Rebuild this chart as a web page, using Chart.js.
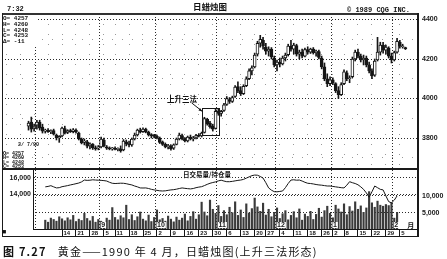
<!DOCTYPE html>
<html>
<head>
<meta charset="utf-8">
<script src="https://cdn.jsdelivr.net/npm/chart.js@4.4.0/dist/chart.umd.min.js"></script>
<style>
  body { margin: 0; width: 447px; height: 259px; background: #fff; position: relative; overflow: hidden; color: #111; }
  .abs { position: absolute; white-space: nowrap; }
  .line { position: absolute; background: #1a1a1a; }
  .mono { font-family: "Liberation Mono", "DejaVu Sans Mono", monospace; font-weight: bold; }
  canvas { position: absolute; }
</style>
</head>
<body>
<canvas id="priceChart" width="445" height="155" style="left:2px;top:14px"></canvas>
<canvas id="volChart" width="445" height="68" style="left:2px;top:169px"></canvas>

<!-- frame -->
<div class="line" style="left:2px;top:13px;width:416px;height:2px;background:#333"></div>
<div class="line" style="left:2px;top:13px;width:1px;height:224px"></div>
<div class="line" style="left:417px;top:13px;width:2px;height:224px"></div>
<div class="line" style="left:2px;top:168px;width:416px;height:2px"></div>
<div class="line" style="left:2px;top:236px;width:416px;height:1px"></div>

<!-- header -->
<div class="abs mono" style="left:7px;top:5px;font-size:7px">7:32</div>
<div class="abs" style="left:193px;top:0px;font:bold 8.5px 'Noto Sans CJK SC'">日蜡烛图</div>
<div class="abs mono" style="left:347px;top:6px;font-size:7px">© 1989 CQG INC.</div>

<!-- quote box, top left -->
<div class="abs mono" style="left:3px;top:16px;width:34px;height:29px;background:#fff;font-size:6px;line-height:5.8px">
O= 4257<br>H= 4260<br>L= 4248<br>C= 4253<br>&Delta;= -11</div>

<!-- bar info, lower left -->
<div class="abs mono" style="left:3px;top:143px;font-size:5px;line-height:4.4px">
&nbsp;&nbsp;&nbsp;&nbsp;&nbsp;2/ 7/90<br><br>O= 4257<br>H= 4260<br>L= 4248<br>C= 4253</div>

<div class="abs" style="left:167px;top:93px;font:bold 7.5px 'Noto Sans CJK SC'">上升三法</div>
<div class="abs" style="left:182px;top:171px;font:bold 6.5px 'Noto Sans CJK SC';line-height:7px;background:#fff;padding:0 1px">日交易量/持仓量</div>
<div class="abs" style="left:2px;top:228px;font-size:7px">■</div>

<div class="abs" style="left:3px;top:243px;font:11px 'Noto Sans CJK SC';letter-spacing:1.2px"><b>图 7.27</b>&nbsp;&nbsp;&nbsp;黄金——1990 年 4 月，日蜡烛图(上升三法形态)</div>

<script>
// trading calendar (COMEX holidays in the window)
const holidays = ['1989-09-04', '1989-11-23', '1989-12-25', '1990-01-01'];
const firstSlotDate = '1989-07-14';
const slotCount = 149;

// daily candles, 1989-07-27 .. 1990-02-07
const candleStart = '1989-07-27';
const opens = [
  3860, 3880, 3850, 3865, 3880, 3855, 3835, 3840, 3832, 3838,
  3815, 3800, 3810, 3848, 3828, 3836, 3832, 3840, 3825, 3795,
  3778, 3780, 3760, 3768, 3750, 3748, 3755, 3790, 3755, 3748,
  3745, 3748, 3742, 3745, 3740, 3780, 3770, 3765, 3795, 3815,
  3838, 3832, 3845, 3830, 3815, 3812, 3808, 3800, 3780, 3768,
  3755, 3760, 3748, 3768, 3795, 3812, 3795, 3785, 3805, 3795,
  3800, 3812, 3810, 3828, 3895, 3875, 3860, 3848, 3935, 3925,
  3940, 3970, 3995, 3985, 4010, 4060, 4040, 4025, 4065, 4100,
  4140, 4160, 4225, 4280, 4295, 4260, 4240, 4250, 4205, 4170,
  4185, 4175, 4205, 4222, 4265, 4250, 4268, 4225, 4235, 4215,
  4248, 4235, 4250, 4232, 4238, 4205, 4160, 4100, 4075, 4095,
  4075, 4040, 4020, 4075, 4130, 4100, 4110, 4200, 4235, 4215,
  4195, 4205, 4170, 4140, 4118, 4195, 4235, 4270, 4245, 4255,
  4215, 4195, 4235, 4285, 4262, 4257
];
const highs = [
  3885, 3906, 3870, 3890, 3890, 3870, 3845, 3848, 3842, 3845,
  3820, 3812, 3855, 3860, 3842, 3845, 3848, 3846, 3830, 3800,
  3795, 3788, 3775, 3772, 3760, 3762, 3805, 3800, 3762, 3755,
  3752, 3755, 3750, 3760, 3792, 3790, 3785, 3800, 3825, 3845,
  3850, 3852, 3850, 3835, 3822, 3818, 3815, 3805, 3785, 3775,
  3768, 3765, 3770, 3800, 3825, 3820, 3802, 3810, 3815, 3808,
  3818, 3822, 3830, 3905, 3900, 3885, 3870, 3945, 3950, 3940,
  3975, 4010, 4005, 4012, 4065, 4085, 4060, 4070, 4110, 4150,
  4165, 4230, 4290, 4320, 4310, 4280, 4262, 4258, 4215, 4195,
  4205, 4215, 4230, 4275, 4295, 4280, 4275, 4245, 4250, 4255,
  4262, 4255, 4258, 4245, 4245, 4215, 4180, 4125, 4110, 4105,
  4080, 4060, 4080, 4145, 4140, 4115, 4210, 4245, 4250, 4225,
  4220, 4215, 4185, 4150, 4200, 4310, 4285, 4285, 4270, 4262,
  4230, 4240, 4305, 4295, 4275, 4260
];
const lows = [
  3840, 3830, 3835, 3845, 3840, 3825, 3825, 3828, 3822, 3815,
  3790, 3778, 3805, 3820, 3822, 3828, 3826, 3825, 3790, 3770,
  3765, 3750, 3745, 3742, 3738, 3740, 3750, 3755, 3742, 3740,
  3738, 3740, 3735, 3728, 3735, 3760, 3755, 3758, 3790, 3810,
  3825, 3828, 3826, 3810, 3800, 3800, 3795, 3772, 3762, 3750,
  3745, 3738, 3742, 3765, 3790, 3790, 3780, 3780, 3790, 3785,
  3795, 3805, 3805, 3825, 3865, 3850, 3835, 3845, 3915, 3910,
  3935, 3965, 3975, 3980, 4005, 4030, 4015, 4020, 4060, 4095,
  4120, 4155, 4215, 4260, 4250, 4225, 4215, 4200, 4160, 4140,
  4160, 4170, 4190, 4215, 4240, 4225, 4215, 4200, 4205, 4210,
  4225, 4228, 4225, 4215, 4200, 4150, 4090, 4060, 4065, 4070,
  4030, 4000, 4015, 4070, 4090, 4080, 4105, 4190, 4205, 4185,
  4170, 4160, 4130, 4100, 4112, 4190, 4220, 4230, 4225, 4205,
  4180, 4190, 4230, 4255, 4255, 4248
];
const closes = [
  3875, 3845, 3860, 3880, 3850, 3835, 3840, 3832, 3838, 3820,
  3800, 3808, 3850, 3825, 3838, 3832, 3842, 3830, 3795, 3775,
  3785, 3758, 3770, 3750, 3745, 3755, 3795, 3760, 3748, 3745,
  3750, 3742, 3746, 3735, 3785, 3770, 3765, 3795, 3815, 3840,
  3830, 3845, 3830, 3815, 3812, 3808, 3800, 3778, 3768, 3755,
  3762, 3745, 3765, 3795, 3815, 3795, 3785, 3805, 3795, 3800,
  3812, 3810, 3825, 3898, 3872, 3858, 3845, 3935, 3925, 3935,
  3968, 4000, 3985, 4005, 4058, 4040, 4025, 4062, 4100, 4140,
  4155, 4220, 4280, 4300, 4265, 4240, 4250, 4210, 4170, 4185,
  4175, 4205, 4220, 4265, 4250, 4270, 4225, 4235, 4215, 4248,
  4235, 4250, 4232, 4240, 4208, 4160, 4100, 4075, 4095, 4080,
  4040, 4020, 4070, 4135, 4100, 4105, 4200, 4235, 4215, 4195,
  4205, 4170, 4140, 4115, 4190, 4235, 4270, 4245, 4260, 4215,
  4195, 4232, 4290, 4265, 4264, 4253
];

// volume / open interest, 1989-08-04 .. 1990-02-02
const volStart = '1989-08-04';
const volume = [
  2800, 2200, 3400, 3000, 2500, 3800, 3200, 2600, 3500, 2900, 4200, 2400, 3100, 2700, 4800, 3300,
  2600, 3900, 2200, 3000, 2500, 2000, 3400, 2800, 6500, 3600, 2900, 4100, 3500, 7200, 3000, 4400, 2700, 3800, 5200, 3100,
  2600, 4300, 2400, 3600, 5800, 2900, 3300, 2500, 4000, 3100, 2300, 3700, 2800, 3400, 4600, 2600, 3900, 5300, 3100, 4400,
  8100, 5200, 4100, 8700, 6000, 4800, 7100, 3900, 5600, 4400, 6600, 5000, 8200, 4200, 5800, 3600, 7600, 4900, 6200, 9300,
  6700, 5400, 7800, 4300, 6000, 3800, 5100, 6400, 3300, 4700, 5600, 2900, 4200, 5300, 3500, 6100, 2800, 4600, 3900, 5400,
  3000, 4500, 6300, 3700, 5600, 6900, 4800, 3500, 7200, 6100, 5200, 7600, 4400, 6800, 5500, 8200, 6000, 7000, 5100, 6400,
  11200, 7900, 6600, 8400, 7200, 6900, 7400, 7100, 8000, 3400, 5100
];
const openInterest = [
  14900, 14950, 15040, 14900, 14770, 14800,
  14920, 14980, 15050, 15130, 15200, 15280, 15360, 15500, 15720, 15680,
  15700, 15750, 15720, 15700, 15680, 15650, 15600, 15450, 15330, 15300,
  15320, 15340, 15330, 15280, 15200, 15130, 15000, 14900, 14770, 14760,
  14770, 14700, 14600, 14530, 14480, 14420, 14400, 14420, 14480, 14530,
  14560, 14620, 14700, 14770, 14720, 14680, 14650, 14700, 14800, 14870,
  14920, 15050, 15200, 15330, 15420, 15500, 15620, 15700, 15600, 15520,
  15520, 15560, 15620, 15680, 15720, 15800, 15950, 16100, 16250, 16320,
  16300, 16150, 15960, 15400, 14770, 14500, 14320, 14300, 14350, 14400,
  14800, 15300, 15720, 15750, 15700, 15720, 15600, 15450, 15330, 15300,
  15250, 15180, 15130, 15100, 15050, 15000, 15000, 14950, 14900, 14850,
  14800, 14770, 15100, 15520, 15400, 15300, 15150, 14900, 14600, 14170,
  13650, 14300, 15000, 14800, 14600, 14530, 13800, 13120, 12970, 13300, 13800
];

// axis ticks
const priceTicks = [3700, 3800, 3900, 4000, 4100, 4200, 4300, 4400];
const oiTicks = [14000, 16000];
const volTicks = [5000, 10000];
const firstDateLabel = '1989-08-14';
const firstMonthLabel = '1989-09-01';
const patternStart = '1989-10-25';   // rising three methods
const patternEnd = '1989-10-31';

function tradingDays(start, count) {
  const out = [];
  const d = new Date(start + 'T00:00:00Z');
  while (out.length < count) {
    const wd = d.getUTCDay();
    const iso = d.toISOString().slice(0, 10);
    if (wd !== 0 && wd !== 6 && !holidays.includes(iso)) out.push(iso);
    d.setUTCDate(d.getUTCDate() + 1);
  }
  return out;
}
const dates = tradingDays(firstSlotDate, slotCount);
const c0 = dates.indexOf(candleStart);
const v0 = dates.indexOf(volStart);
const lastCandle = c0 + closes.length - 1;
const wd = s => new Date(dates[s] + 'T00:00:00Z').getUTCDay();
const mon = s => +dates[s].slice(5, 7);

const weekStarts = [];
const monthStarts = [];
for (let s = 1; s < slotCount; s++) {
  if (wd(s) < wd(s - 1) && s <= lastCandle) weekStarts.push(s);
  if (mon(s) !== mon(s - 1)) monthStarts.push(s);
}
const labelWeeks = weekStarts.filter(s => s >= dates.indexOf(firstDateLabel));
const isMonth = v => v % 1 !== 0;

const wicks = closes.map((c, i) => ({ x: c0 + i, y: [lows[i], highs[i]] }));
const bodies = closes.map((c, i) => ({ x: c0 + i, y: [Math.min(opens[i], c), Math.max(opens[i], c)] }));

const ink = '#161616';

// scales keep their own label padding out of the layout, so the plot fills the canvas
function noPad(s) {
  s.paddingTop = 0; s.paddingBottom = 0; s.paddingLeft = 0; s.paddingRight = 0;
}

// dotted month lines, sparse weekly dots
const priceGridTicks = [...weekStarts, ...monthStarts.map(s => s - 0.5)].sort((a, b) => a - b);

const patternBox = {
  id: 'patternBox',
  afterDatasetsDraw(chart) {
    const { x, y } = chart.scales;
    const g = chart.ctx;
    const a = dates.indexOf(patternStart), b = dates.indexOf(patternEnd);
    const hi = Math.max(...highs.slice(a - c0, b - c0 + 1));
    const lo = Math.min(...lows.slice(a - c0, b - c0 + 1));
    const l = Math.round(x.getPixelForValue(a - 1)) + 0.5;
    const r = Math.round(x.getPixelForValue(b + 1.2)) + 0.5;
    const t = Math.round(y.getPixelForValue(hi + 5)) + 0.5;
    const btm = Math.round(y.getPixelForValue(lo - 8)) + 0.5;
    g.save();
    g.strokeStyle = ink;
    g.lineWidth = 1;
    g.strokeRect(l, t, r - l, btm - t);
    // arrow from the label to the box
    const sx = x.getPixelForValue(a - 4.6), sy = y.getPixelForValue(3978);
    g.beginPath();
    g.moveTo(sx, sy);
    g.lineTo(l, t + 3);
    g.stroke();
    g.beginPath();
    g.moveTo(l, t + 3);
    g.lineTo(l - 4, t + 2);
    g.lineTo(l - 2.5, t - 0.5);
    g.closePath();
    g.fillStyle = ink;
    g.fill();
    g.restore();
  }
};

new Chart(document.getElementById('priceChart'), {
  type: 'bar',
  data: {
    datasets: [
      { data: wicks, backgroundColor: ink, barThickness: 1, grouped: false, order: 2 },
      {
        data: bodies,
        backgroundColor: ctx => closes[ctx.dataIndex] >= opens[ctx.dataIndex] ? '#fff' : ink,
        borderColor: ink, borderWidth: 1, borderSkipped: false,
        barThickness: 3, minBarLength: 1, grouped: false, order: 1
      }
    ]
  },
  options: {
    responsive: false,
    animation: false,
    layout: { padding: 0, autoPadding: false },
    plugins: { legend: { display: false }, tooltip: { enabled: false } },
    scales: {
      x: {
        type: 'linear', min: -0.5, max: slotCount - 0.5, offset: false,
        afterBuildTicks: s => { s.ticks = priceGridTicks.map(v => ({ value: v })); },
        afterFit: s => { s.height = 0; noPad(s); },
        ticks: { display: false, autoSkip: false },
        grid: {
          offset: false, drawTicks: false,
          color: ctx => ctx.tick && isMonth(ctx.tick.value) ? '#2a2a2a' : '#9a9a9a'
        },
        border: { display: false, dash: ctx => ctx.tick && isMonth(ctx.tick.value) ? [1, 2] : [1, 9] }
      },
      y: {
        position: 'right', min: 3643, max: 4428,
        afterBuildTicks: s => { s.ticks = priceTicks.map(v => ({ value: v })); },
        afterFit: s => { s.width = 29; noPad(s); },
        ticks: {
          callback: v => (v % 200 === 0 ? v : ''),
          color: ink, padding: 4,
          font: { family: 'Liberation Sans', size: 7, weight: 'bold' }
        },
        grid: {
          drawTicks: false,
          color: ctx => ctx.tick && ctx.tick.value % 200 === 0 ? '#2a2a2a' : '#9a9a9a'
        },
        border: { display: false, dash: ctx => ctx.tick && ctx.tick.value % 200 === 0 ? [1, 2] : [1, 9] }
      }
    }
  },
  plugins: [patternBox]
});

const monthLabels = {
  id: 'monthLabels',
  afterDatasetsDraw(chart) {
    const { x } = chart.scales;
    const g = chart.ctx;
    const bottom = chart.chartArea.bottom;
    const from = dates.indexOf(firstMonthLabel);
    g.save();
    g.font = 'bold 7px "Liberation Sans"';
    g.textBaseline = 'bottom';
    monthStarts.filter(s => s >= from && s <= lastCandle).forEach((s, i, arr) => {
      const px = x.getPixelForValue(s - 0.5) + 1.5;
      const txt = String(mon(s));
      const w = g.measureText(txt).width;
      g.fillStyle = '#fff';
      g.fillRect(px - 0.5, bottom - 7, w + 1.5, 6);
      g.fillStyle = ink;
      g.fillText(txt, px, bottom - 0.5);
      if (i === arr.length - 1) {
        g.font = 'bold 7px "Noto Sans CJK SC"';
        g.fillText('月', px + 13, bottom - 0.5);
      }
    });
    g.restore();
  }
};

const volTicksX = [...labelWeeks, ...monthStarts.map(s => s - 0.5)].sort((a, b) => a - b);

new Chart(document.getElementById('volChart'), {
  type: 'bar',
  data: {
    datasets: [
      {
        type: 'line', data: openInterest.map((v, i) => ({ x: v0 + i, y: v })), yAxisID: 'yOI',
        borderColor: ink, borderWidth: 1, pointRadius: 0, tension: 0, order: 0
      },
      {
        data: volume.map((v, i) => ({ x: v0 + i, y: v })), yAxisID: 'yVol',
        backgroundColor: '#3a3a3a', barThickness: 1.5, grouped: false, order: 1
      }
    ]
  },
  options: {
    responsive: false,
    animation: false,
    layout: { padding: { top: 1 }, autoPadding: false },
    plugins: { legend: { display: false }, tooltip: { enabled: false } },
    scales: {
      x: {
        type: 'linear', min: 10.6, max: slotCount - 0.5, offset: false,
        afterBuildTicks: s => { s.ticks = volTicksX.map(v => ({ value: v })); },
        afterFit: s => { s.height = 8; noPad(s); },
        ticks: {
          autoSkip: false, maxRotation: 0, align: 'start', labelOffset: 1.5, padding: -7,
          color: ink, font: { family: 'Liberation Sans', size: 6, weight: 'bold' },
          callback: v => (isMonth(v) ? '' : String(+dates[v].slice(8, 10)))
        },
        grid: {
          offset: false, tickLength: 8,
          color: ctx => ctx.tick && isMonth(ctx.tick.value) ? '#2a2a2a' : 'rgba(0,0,0,0)',
          tickColor: ctx => ctx.tick && !isMonth(ctx.tick.value) ? ink : 'rgba(0,0,0,0)'
        },
        border: { display: true, color: ink, width: 1, dash: ctx => (ctx.tick ? [1, 2] : []) }
      },
      yOI: {
        position: 'left', min: 9820, max: 16930,
        afterBuildTicks: s => { s.ticks = oiTicks.map(v => ({ value: v })); },
        afterFit: s => { s.width = 31; noPad(s); },
        ticks: { color: ink, padding: 2, font: { family: 'Liberation Sans', size: 7, weight: 'bold' } },
        grid: { drawTicks: false, color: '#2a2a2a' },
        border: { display: true, color: ink, width: 1, dash: ctx => (ctx.tick ? [1, 2] : []) }
      },
      yVol: {
        position: 'right', min: 200, max: 17560,
        afterBuildTicks: s => { s.ticks = volTicks.map(v => ({ value: v })); },
        afterFit: s => { s.width = 29; noPad(s); },
        ticks: { color: ink, padding: 4, font: { family: 'Liberation Sans', size: 7, weight: 'bold' } },
        grid: { drawTicks: false, color: '#2a2a2a' },
        border: { display: false, dash: ctx => (ctx.tick ? [1, 2] : []) }
      }
    }
  },
  plugins: [monthLabels]
});
</script>
</body>
</html>
